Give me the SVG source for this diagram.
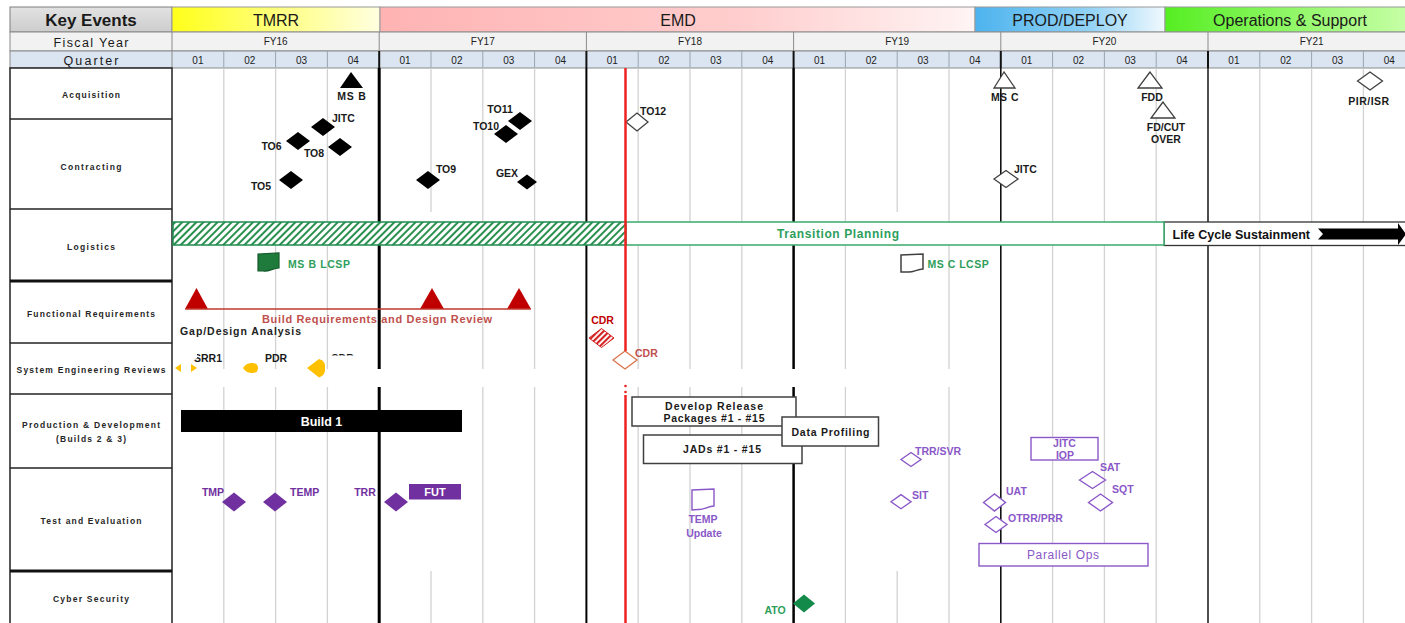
<svg xmlns="http://www.w3.org/2000/svg" width="1405" height="623" viewBox="0 0 1405 623">
<defs>
<linearGradient id="gKEY" x1="0" y1="0" x2="0" y2="1"><stop offset="0" stop-color="#e2e2e2"/><stop offset="1" stop-color="#cdcdcd"/></linearGradient>
<linearGradient id="gTMRR"><stop offset="0" stop-color="#ffff1a"/><stop offset="1" stop-color="#ffffe0"/></linearGradient>
<linearGradient id="gEMD"><stop offset="0" stop-color="#ffb3b3"/><stop offset="0.6" stop-color="#ffcdcd"/><stop offset="1" stop-color="#fff4f4"/></linearGradient>
<linearGradient id="gPROD"><stop offset="0" stop-color="#4db3ee"/><stop offset="0.6" stop-color="#92d2f5"/><stop offset="1" stop-color="#f0f9fe"/></linearGradient>
<linearGradient id="gOPS"><stop offset="0" stop-color="#55ee22"/><stop offset="1" stop-color="#c8ffa8"/></linearGradient>
<pattern id="hatch" patternUnits="userSpaceOnUse" width="5" height="5" patternTransform="rotate(45)"><rect width="5" height="5" fill="#ffffff"/><line x1="1" y1="0" x2="1" y2="5" stroke="#2a9050" stroke-width="2"/></pattern>
<pattern id="rhatch" patternUnits="userSpaceOnUse" width="4" height="4" patternTransform="rotate(45)"><rect width="4" height="4" fill="#ffffff"/><line x1="1" y1="0" x2="1" y2="4" stroke="#d42020" stroke-width="2.2"/></pattern>
<style>
text{font-family:"Liberation Sans",Arial,sans-serif}
.hd{font-size:16px;fill:#1a1a1a;text-anchor:middle}
.fyl{font-size:10px;fill:#222;text-anchor:middle}
.ql{font-size:10px;fill:#222;text-anchor:middle}
.rl{font-size:8.5px;font-weight:bold;fill:#262626;text-anchor:middle}
.b{font-size:10.5px;font-weight:bold;fill:#1a1a1a}
.m{text-anchor:middle}
.pur{fill:#7030a0}
.lp{fill:#8a58c8}
.grn{fill:#2e9e5b}
.qline{stroke:#d2d2d2;stroke-width:1.3}
.hollow{fill:#ffffff;stroke:#404040;stroke-width:1.3}
.blk{fill:#000000}
.pd{fill:#7030a0}
.ph{fill:#ffffff;stroke:#8a58c8;stroke-width:1.4}
.box{fill:#ffffff;stroke:#404040;stroke-width:1.5}
.bx{font-size:10.5px;font-weight:bold;fill:#1a1a1a;text-anchor:middle}
</style>
</defs>
<rect width="1405" height="623" fill="#ffffff"/>

<g id="header">
<rect x="10" y="7" width="162" height="25" fill="url(#gKEY)" stroke="#7f7f7f"/>
<text x="91" y="26" font-size="17" font-weight="bold" fill="#1a1a1a" text-anchor="middle">Key Events</text>
<rect x="172" y="7" width="208" height="25" fill="url(#gTMRR)" stroke="#9a9a9a"/>
<text class="hd" x="276" y="25.5">TMRR</text>
<rect x="380" y="7" width="595" height="25" fill="url(#gEMD)" stroke="#9a9a9a"/>
<text class="hd" x="678" y="25.5">EMD</text>
<rect x="975" y="7" width="190" height="25" fill="url(#gPROD)" stroke="#9a9a9a"/>
<text class="hd" x="1070" y="25.5">PROD/DEPLOY</text>
<rect x="1165" y="7" width="245" height="25" fill="url(#gOPS)" stroke="#9a9a9a"/>
<text class="hd" x="1290" y="25.5">Operations &amp; Support</text>

<rect x="10" y="32" width="1400" height="19" fill="#f2f2f2" stroke="#8a8a8a"/>
<text x="91" y="47" font-size="12.5" fill="#1a1a1a" text-anchor="middle" textLength="75">Fiscal Year</text>
<rect x="10" y="51" width="1400" height="17" fill="#dbe5f1" stroke="#8a8a8a"/>
<text x="91" y="65" font-size="12.5" fill="#1a1a1a" text-anchor="middle" textLength="55">Quarter</text>
<g stroke="#8a8a8a" stroke-width="1">
<line x1="172" y1="32" x2="172" y2="68"/><line x1="379.2" y1="32" x2="379.2" y2="51"/><line x1="586.4" y1="32" x2="586.4" y2="51"/><line x1="793.6" y1="32" x2="793.6" y2="51"/><line x1="1000.8" y1="32" x2="1000.8" y2="51"/><line x1="1208" y1="32" x2="1208" y2="51"/>
</g>
<g stroke="#9aa4b0" stroke-width="1">
<line x1="223.8" y1="51" x2="223.8" y2="68"/><line x1="275.6" y1="51" x2="275.6" y2="68"/><line x1="327.4" y1="51" x2="327.4" y2="68"/>
<line x1="431" y1="51" x2="431" y2="68"/><line x1="482.8" y1="51" x2="482.8" y2="68"/><line x1="534.6" y1="51" x2="534.6" y2="68"/>
<line x1="638.2" y1="51" x2="638.2" y2="68"/><line x1="690" y1="51" x2="690" y2="68"/><line x1="741.8" y1="51" x2="741.8" y2="68"/>
<line x1="845.4" y1="51" x2="845.4" y2="68"/><line x1="897.2" y1="51" x2="897.2" y2="68"/><line x1="949" y1="51" x2="949" y2="68"/>
<line x1="1052.6" y1="51" x2="1052.6" y2="68"/><line x1="1104.4" y1="51" x2="1104.4" y2="68"/><line x1="1156.2" y1="51" x2="1156.2" y2="68"/>
<line x1="1259.8" y1="51" x2="1259.8" y2="68"/><line x1="1311.6" y1="51" x2="1311.6" y2="68"/><line x1="1363.4" y1="51" x2="1363.4" y2="68"/>
</g>
<g stroke="#111" stroke-width="2">
<line x1="379.2" y1="51" x2="379.2" y2="68"/><line x1="586.4" y1="51" x2="586.4" y2="68"/><line x1="793.6" y1="51" x2="793.6" y2="68"/><line x1="1000.8" y1="51" x2="1000.8" y2="68"/><line x1="1208" y1="51" x2="1208" y2="68"/>
</g>
<text class="fyl" x="275.6" y="45">FY16</text><text class="fyl" x="482.8" y="45">FY17</text><text class="fyl" x="690" y="45">FY18</text><text class="fyl" x="897.2" y="45">FY19</text><text class="fyl" x="1104.4" y="45">FY20</text><text class="fyl" x="1311.6" y="45">FY21</text>
<g class="ql">
<text x="197.9" y="63.5">01</text><text x="249.7" y="63.5">02</text><text x="301.5" y="63.5">03</text><text x="353.3" y="63.5">04</text>
<text x="405.1" y="63.5">01</text><text x="456.9" y="63.5">02</text><text x="508.7" y="63.5">03</text><text x="560.5" y="63.5">04</text>
<text x="612.3" y="63.5">01</text><text x="664.1" y="63.5">02</text><text x="715.9" y="63.5">03</text><text x="767.7" y="63.5">04</text>
<text x="819.5" y="63.5">01</text><text x="871.3" y="63.5">02</text><text x="923.1" y="63.5">03</text><text x="974.9" y="63.5">04</text>
<text x="1026.7" y="63.5">01</text><text x="1078.5" y="63.5">02</text><text x="1130.3" y="63.5">03</text><text x="1182.1" y="63.5">04</text>
<text x="1233.9" y="63.5">01</text><text x="1285.7" y="63.5">02</text><text x="1337.5" y="63.5">03</text><text x="1389.3" y="63.5">04</text>
</g>
</g>

<g id="grid">
<g class="qline">
<line x1="223.8" y1="68" x2="223.8" y2="623"/><line x1="275.6" y1="68" x2="275.6" y2="623"/><line x1="327.4" y1="68" x2="327.4" y2="623"/>
<line x1="431" y1="68" x2="431" y2="212"/><line x1="431" y1="571" x2="431" y2="623"/><line x1="482.8" y1="68" x2="482.8" y2="623"/><line x1="534.6" y1="68" x2="534.6" y2="623"/>
<line x1="638.2" y1="68" x2="638.2" y2="623"/><line x1="690" y1="68" x2="690" y2="623"/><line x1="741.8" y1="68" x2="741.8" y2="623"/>
<line x1="845.4" y1="68" x2="845.4" y2="623"/><line x1="897.2" y1="68" x2="897.2" y2="212"/><line x1="897.2" y1="571" x2="897.2" y2="623"/><line x1="949" y1="68" x2="949" y2="623"/>
<line x1="1052.6" y1="68" x2="1052.6" y2="623"/><line x1="1104.4" y1="68" x2="1104.4" y2="623"/><line x1="1156.2" y1="68" x2="1156.2" y2="623"/>
<line x1="1259.8" y1="68" x2="1259.8" y2="623"/><line x1="1311.6" y1="68" x2="1311.6" y2="623"/><line x1="1363.4" y1="68" x2="1363.4" y2="623"/>
</g>
<line x1="379.2" y1="68" x2="379.2" y2="623" stroke="#000" stroke-width="3"/>
<line x1="586.4" y1="68" x2="586.4" y2="623" stroke="#000" stroke-width="2"/>
<line x1="793.6" y1="68" x2="793.6" y2="623" stroke="#000" stroke-width="2.5"/>
<line x1="1000.8" y1="68" x2="1000.8" y2="623" stroke="#111" stroke-width="1.6"/>
<line x1="1208" y1="68" x2="1208" y2="623" stroke="#222" stroke-width="1.6"/>
</g>

<g id="row-labels">
<rect x="10" y="68" width="162" height="560" fill="#ffffff" stroke="#222" stroke-width="1.5"/>
<g stroke="#222" stroke-width="1.5">
<line x1="10" y1="119" x2="172" y2="119"/><line x1="10" y1="209" x2="172" y2="209"/><line x1="10" y1="343" x2="172" y2="343"/><line x1="10" y1="394" x2="172" y2="394"/><line x1="10" y1="468" x2="172" y2="468"/>
</g>
<line x1="10" y1="281" x2="172" y2="281" stroke="#111" stroke-width="3"/>
<line x1="10" y1="571" x2="172" y2="571" stroke="#111" stroke-width="3"/>
<text class="rl" x="91" y="98" textLength="58">Acquisition</text>
<text class="rl" x="91" y="170" textLength="61">Contracting</text>
<text class="rl" x="91" y="250" textLength="48">Logistics</text>
<text class="rl" x="91" y="316.5" textLength="128">Functional Requirements</text>
<text class="rl" x="91" y="372.5" textLength="149">System Engineering Reviews</text>
<text class="rl" x="91" y="428" textLength="138">Production &amp; Development</text>
<text class="rl" x="91" y="442" textLength="70">(Builds 2 &amp; 3)</text>
<text class="rl" x="91" y="524" textLength="101">Test and Evaluation</text>
<text class="rl" x="91" y="601.5" textLength="76">Cyber Security</text>
</g>

<g id="acquisition">
<g id="ms-b"><polygon points="351,72 340,88 363,88" class="blk"/><text class="b m" x="352" y="100" letter-spacing="0.8">MS B</text></g>
<g id="ms-c"><polygon points="1004,72 994,88 1015,88" class="hollow"/><text class="b m" x="1005" y="101" letter-spacing="0.5">MS C</text></g>
<g id="fdd"><polygon points="1150,72 1138,88 1162,88" class="hollow"/><text class="b m" x="1152" y="101">FDD</text></g>
<g id="fd-cutover"><polygon points="1163,102 1151,118 1175,118" class="hollow"/><text class="b m" x="1166" y="131">FD/CUT</text><text class="b m" x="1166" y="143">OVER</text></g>
<g id="pir-isr"><polygon points="1357.5,81 1370,72 1382.5,81 1370,90" class="hollow"/><text class="b m" x="1369" y="105" letter-spacing="0.5">PIR/ISR</text></g>
</g>

<g id="contracting">
<g id="jitc-1"><polygon points="311,127 323,118 335,127 323,136" class="blk"/><text class="b" x="332" y="122">JITC</text></g>
<g id="to6"><polygon points="286,141 298,132 310,141 298,150" class="blk"/><text class="b m" x="271.5" y="150">TO6</text></g>
<g id="to8"><polygon points="328,147 340,138 352,147 340,156" class="blk"/><text class="b m" x="314" y="157">TO8</text></g>
<g id="to5"><polygon points="279,180 291,171 303,180 291,189" class="blk"/><text class="b m" x="261" y="190">TO5</text></g>
<g id="to9"><polygon points="416,180 428,171 440,180 428,189" class="blk"/><text class="b m" x="446" y="173">TO9</text></g>
<g id="to11"><polygon points="508,121 520,112 532,121 520,130" class="blk"/><text class="b m" x="500" y="113">TO11</text></g>
<g id="to10"><polygon points="494,134 506,125 518,134 506,143" class="blk"/><text class="b m" x="486" y="130">TO10</text></g>
<g id="gex"><polygon points="517,182 527,174.5 537,182 527,189.5" class="blk"/><text class="b m" x="507" y="177">GEX</text></g>
<g id="to12"><polygon points="626,122 637,113 648,122 637,131" class="hollow"/><text class="b" x="640" y="115">TO12</text></g>
<g id="jitc-2"><polygon points="994,179 1006,170.5 1018,179 1006,187.5" class="hollow"/><text class="b" x="1014" y="173">JITC</text></g>
</g>

<g id="logistics">
<g id="hatched-bar"><rect x="173" y="222" width="453" height="23" fill="url(#hatch)" stroke="#1e8c4e" stroke-width="1.5"/></g>
<g id="life-cycle-sustainment">
<rect x="1164" y="222" width="245" height="23.5" fill="#ffffff" stroke="#333" stroke-width="1.3"/>
<text x="1172.5" y="238.5" font-size="12.5" font-weight="bold" fill="#111">Life Cycle Sustainment</text>
<polygon points="1318,228.5 1398,228.5 1398,223 1406,234 1398,245 1398,239.5 1318,239.5 1323,234" fill="#000"/>
</g>
<g id="transition-planning">
<rect x="626" y="222" width="538" height="23" fill="#ffffff" stroke="#3aaa6a" stroke-width="1.5"/>
<text x="838" y="238" font-size="12" font-weight="bold" class="grn m" textLength="122">Transition Planning</text>
</g>
<g id="ms-b-lcsp"><path d="M258,254 L279,253 L279,268 C273,268 269,272 263,271 L258,271 Z" fill="#1e7b3c" stroke="#145a2b" stroke-width="1.2"/><text class="b grn" x="288" y="268" letter-spacing="0.6">MS B LCSP</text></g>
<g id="ms-c-lcsp"><path d="M901,255 L923,254 L923,269 C917,269 913,273 907,272 L901,272 Z" fill="#ffffff" stroke="#404040" stroke-width="1.5"/><text class="b grn" x="927.5" y="268" letter-spacing="0.5">MS C LCSP</text></g>
</g>

<g id="functional-requirements">
<g id="fr-triangle-1"><polygon points="196.5,288 185,309 208,309" fill="#c00000"/></g>
<g id="fr-triangle-2"><polygon points="432,288 420,309 444,309" fill="#c00000"/></g>
<g id="fr-triangle-3"><polygon points="519,288 507,309 531,309" fill="#c00000"/></g>
<text x="262" y="323" font-size="11" font-weight="bold" fill="#c0504d" textLength="230">Build Requirements and Design Review</text>
<text x="180" y="335" font-size="10.5" font-weight="bold" fill="#222" textLength="121">Gap/Design Analysis</text>
<g id="cdr-hatched"><polygon points="589,338 601.5,328.5 614,338 601.5,347.5" fill="url(#rhatch)" stroke="#d42020" stroke-width="1"/><text class="b m" x="602.5" y="324" style="fill:#c00000">CDR</text></g>
</g>

<g id="system-engineering-reviews">
<text class="b" x="194" y="362">SRR1</text>
<text class="b" x="265" y="362">PDR</text>
<text class="b" x="331" y="362">CDR</text>
<rect x="190" y="352" width="7" height="6" fill="#ffffff"/>
<rect x="329" y="355.5" width="28" height="8" fill="#ffffff"/>
<rect x="176" y="369" width="409" height="18" fill="#ffffff"/>
<rect x="588" y="369" width="30" height="18" fill="#ffffff"/>
<rect x="632" y="369" width="368" height="18" fill="#ffffff"/>
<g id="ser-yellow" fill="#ffc000">
<polygon points="175,368 181,364 181,372"/>
<polygon points="191,364 197,368 191,372"/>
<path d="M243,368 Q246,363 252,363 Q258,363 258,368 Q258,373 252,373 Q246,373 243,368 Z"/>
<path d="M307,368 L319,359 Q326,361 325,368 Q326,375 319,377.5 Z"/>
</g>
<g id="cdr-hollow"><polygon points="613,360 625,351 637,360 625,369" fill="#ffffff" stroke="#d9734a" stroke-width="1.3"/><text class="b" x="635" y="357" style="fill:#c0504d">CDR</text></g>
</g>

<g id="production-development">
<g id="build-1"><rect x="181" y="410" width="281" height="22" fill="#000"/><text x="321.5" y="425.5" font-size="12.5" font-weight="bold" fill="#ffffff" text-anchor="middle">Build 1</text></g>
<g id="develop-release"><rect x="632" y="397" width="164" height="29" class="box"/><text class="bx" x="714" y="409.5" textLength="98">Develop Release</text><text class="bx" x="714" y="422" textLength="101">Packages #1 - #15</text></g>
<g id="jads"><rect x="643.5" y="435" width="158.5" height="28.5" class="box"/><text class="bx" x="722" y="453" textLength="78">JADs #1 - #15</text></g>
<g id="data-profiling"><rect x="782" y="417" width="96.5" height="29" class="box"/><text class="bx" x="830.5" y="435.5" textLength="78">Data Profiling</text></g>
<g id="jitc-iop"><rect x="1031" y="437.5" width="67" height="22.5" class="ph"/><text class="b lp m" x="1064.5" y="446.5">JITC</text><text class="b lp m" x="1065" y="458.5">IOP</text></g>
</g>

<g id="test-evaluation">
<g id="tmp"><polygon points="222,502 234,492.5 246,502 234,511.5" class="pd"/><text class="b pur m" x="213" y="495.5">TMP</text></g>
<g id="temp"><polygon points="263,502 275,492.5 287,502 275,511.5" class="pd"/><text class="b pur" x="290" y="495.5">TEMP</text></g>
<g id="trr"><polygon points="384,502 396,492.5 408,502 396,511.5" class="pd"/><text class="b pur m" x="365" y="495.5">TRR</text></g>
<g id="fut"><rect x="409" y="484" width="52" height="15.5" fill="#7030a0"/><text x="435" y="496" font-size="11" font-weight="bold" fill="#ffffff" text-anchor="middle">FUT</text></g>
<g id="temp-update"><path d="M692,490 L714,489 L714,506 C708,506 704,510 698,509.5 L692,510 Z" class="ph"/><text class="b lp m" x="703" y="523">TEMP</text><text class="b lp m" x="704" y="536.5">Update</text></g>
<g id="trr-svr"><polygon points="901,459.5 911,452.5 921,459.5 911,466.5" class="ph"/><text class="b lp" x="915" y="454.5">TRR/SVR</text></g>
<g id="sit"><polygon points="891,501.7 901,494.7 911,501.7 901,508.7" class="ph"/><text class="b lp" x="912" y="499">SIT</text></g>
<g id="uat"><polygon points="983.5,502.5 994.5,494 1005.5,502.5 994.5,511" class="ph"/><text class="b lp" x="1006" y="494.5">UAT</text></g>
<g id="otrr-prr"><polygon points="985,524.5 996,516.5 1007,524.5 996,532.5" class="ph"/><text class="b lp" x="1008" y="522">OTRR/PRR</text></g>
<g id="sat"><polygon points="1079.5,480 1092.5,471.5 1105.5,480 1092.5,488.5" class="ph"/><text class="b lp" x="1100" y="471">SAT</text></g>
<g id="sqt"><polygon points="1088.5,502.5 1100.5,494 1112.5,502.5 1100.5,511" class="ph"/><text class="b lp" x="1112" y="493">SQT</text></g>
<g id="parallel-ops"><rect x="979" y="543.5" width="169" height="22.5" class="ph"/><text x="1063" y="558.5" font-size="12" class="lp m" textLength="72">Parallel Ops</text></g>
</g>

<g id="cyber-security">
<g id="ato"><polygon points="793,603.5 804,594.5 815,603.5 804,612.5" fill="#138a4a"/><text class="b grn m" x="775" y="614">ATO</text></g>
</g>

<g id="connectors">
<line x1="185" y1="309" x2="531" y2="309" stroke="#c0392b" stroke-width="1.5"/>
<line x1="625.5" y1="68" x2="625.5" y2="351" stroke="#ee2222" stroke-width="2.5"/>
<circle cx="625.5" cy="386" r="1.3" fill="#ee2222"/>
<circle cx="625.5" cy="392" r="1.3" fill="#ee2222"/>
<line x1="625.5" y1="395" x2="625.5" y2="623" stroke="#ee2222" stroke-width="2.5"/>
</g>
</svg>
